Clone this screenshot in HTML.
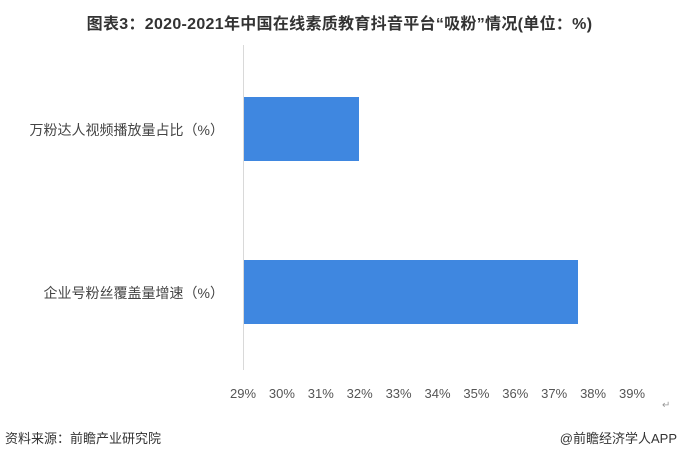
<!DOCTYPE html>
<html><head><meta charset="utf-8"><style>
body{margin:0;width:679px;height:456px;background:#fff;position:relative;overflow:hidden;font-family:"Liberation Sans","Noto Sans CJK SC",sans-serif;}
.t{position:absolute;white-space:nowrap;}
</style></head><body>
<div class="t" style="left:0;width:679px;top:10px;text-align:center;font-size:16px;font-weight:bold;color:#333;letter-spacing:0.3px;">图表3：2020-2021年中国在线素质教育抖音平台“吸粉”情况(单位：%)</div>
<div style="position:absolute;left:243px;top:45px;width:1px;height:325px;background:#d9d9d9;"></div>
<div style="position:absolute;left:244px;top:97px;width:115px;height:64px;background:#3f87e0;"></div>
<div style="position:absolute;left:244px;top:260px;width:334px;height:64px;background:#3f87e0;"></div>
<div class="t" style="right:455px;top:120px;font-size:14px;color:#444;">万粉达人视频播放量占比（%）</div>
<div class="t" style="right:455px;top:283px;font-size:14px;color:#444;">企业号粉丝覆盖量增速（%）</div>
<div id="ticks"></div>
<div class="t" style="left:5px;top:428px;font-size:13px;color:#333;">资料来源：前瞻产业研究院</div>
<div class="t" style="right:2px;top:428px;font-size:13px;color:#333;">@前瞻经济学人APP</div>
<div class="t" style="left:662px;top:400px;font-size:10px;color:#999;">↵</div>
<script>
var h='';for(var i=0;i<=10;i++){var x=243+i*38.9;h+='<div class="t" style="left:'+(x-20)+'px;width:40px;text-align:center;top:386px;font-size:13px;color:#555;">'+(29+i)+'%</div>';}
document.getElementById('ticks').innerHTML=h;
</script>
</body></html>
